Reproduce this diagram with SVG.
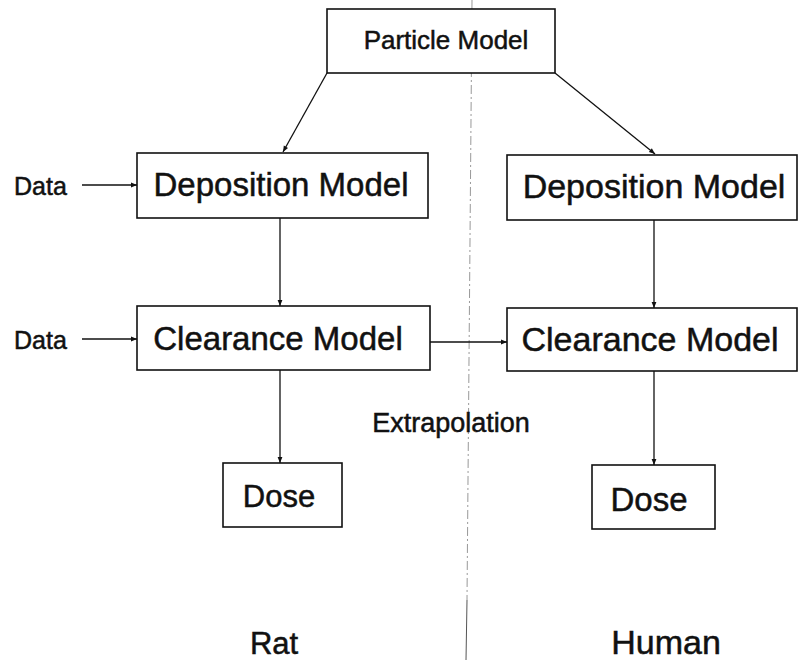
<svg xmlns="http://www.w3.org/2000/svg" width="799" height="660" viewBox="0 0 799 660">
<defs>
<marker id="ah" viewBox="0 0 10 10" refX="10" refY="5" markerWidth="7" markerHeight="6" markerUnits="userSpaceOnUse" orient="auto">
<path d="M0,1 L10,5 L0,9 z" fill="#111"/>
</marker>
</defs>
<style>
.box{fill:#fff;stroke:#111;stroke-width:1.6}
.t{font-family:"Liberation Sans",Arial,sans-serif;fill:#111;stroke:#111;stroke-width:0.5}
.c{stroke:#111;stroke-width:1.3;fill:none;marker-end:url(#ah)}
</style>
<rect width="799" height="660" fill="#fff"/>
<g id="divider">
<line x1="472" y1="0" x2="467" y2="600" stroke="#999" stroke-width="1" stroke-dasharray="9 3 2 3"/>
<line x1="467" y1="600" x2="466" y2="660" stroke="#555" stroke-width="1"/>
</g>
<g id="connectors">
<line class="c" x1="327" y1="73" x2="283" y2="152"/>
<line class="c" x1="555" y1="73" x2="655" y2="154"/>
<line class="c" x1="82" y1="185" x2="137" y2="185"/>
<line class="c" x1="82" y1="339" x2="137" y2="339"/>
<line class="c" x1="280" y1="218" x2="280" y2="306"/>
<line class="c" x1="280" y1="370" x2="280" y2="463"/>
<line class="c" x1="430" y1="342" x2="507" y2="342"/>
<line class="c" x1="654" y1="220" x2="654" y2="308"/>
<line class="c" x1="654" y1="371" x2="654" y2="465"/>
</g>
<g id="particle"><rect class="box" x="327" y="9" width="228" height="64"/><text class="t" x="446" y="49" font-size="26" text-anchor="middle">Particle Model</text></g>
<g id="data1"><text class="t" x="14" y="195" font-size="25">Data</text></g>
<g id="data2"><text class="t" x="14" y="349" font-size="25">Data</text></g>
<g id="dep-rat"><rect class="box" x="137" y="153" width="291" height="65"/><text class="t" x="281" y="196" font-size="33" text-anchor="middle">Deposition Model</text></g>
<g id="dep-human"><rect class="box" x="507" y="155" width="290" height="65"/><text class="t" x="654" y="198" font-size="34" text-anchor="middle">Deposition Model</text></g>
<g id="clr-rat"><rect class="box" x="137" y="306" width="293" height="64"/><text class="t" x="278" y="350" font-size="33" text-anchor="middle">Clearance Model</text></g>
<g id="clr-human"><rect class="box" x="507" y="308" width="290" height="63"/><text class="t" x="650" y="351" font-size="34" text-anchor="middle">Clearance Model</text></g>
<g id="extrap"><text class="t" x="451" y="432" font-size="27" text-anchor="middle">Extrapolation</text></g>
<g id="dose-rat"><rect class="box" x="223" y="463" width="119" height="64"/><text class="t" x="279" y="507" font-size="31" text-anchor="middle">Dose</text></g>
<g id="dose-human"><rect class="box" x="592" y="465" width="123" height="64"/><text class="t" x="649" y="511" font-size="33" text-anchor="middle">Dose</text></g>
<g id="rat"><text class="t" x="274" y="654" font-size="31" text-anchor="middle">Rat</text></g>
<g id="human"><text class="t" x="666" y="654" font-size="34" text-anchor="middle">Human</text></g>
</svg>
